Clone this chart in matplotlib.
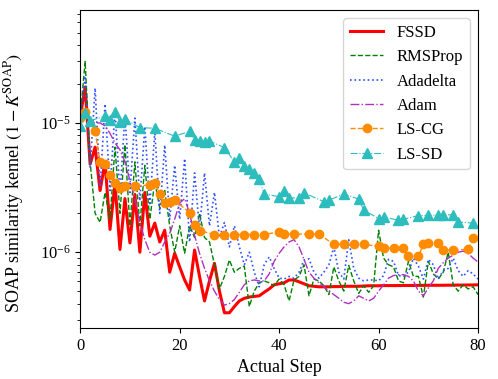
import numpy as np
import matplotlib
matplotlib.use("Agg")
import matplotlib.pyplot as plt

plt.rcParams['font.family'] = ['Liberation Serif', 'DejaVu Serif']
plt.rcParams['mathtext.fontset'] = 'stix'
plt.rcParams['font.size'] = 12

steps = list(range(81))

# FSSD
fssd = [1.1e-5, 1.9e-5, 4.8e-6, 6.5e-6, 3.0e-6, 5.0e-6, 1.5e-6, 3.4e-6, 1.05e-6, 2.6e-6,
        1.18e-6, 2.8e-6, 1.0e-6, 2.9e-6, 1.33e-6, 1.68e-6, 1.2e-6, 1.48e-6, 7.0e-7, 9.8e-7,
        7.7e-7, 6.1e-7, 5.1e-7, 1.04e-6, 6.5e-7, 4.2e-7, 6.0e-7, 8.2e-7, 5.0e-7, 3.4e-7,
        3.4e-7, 3.8e-7, 4.2e-7, 4.4e-7, 4.5e-7, 4.55e-7, 4.6e-7, 4.9e-7, 5.2e-7, 5.6e-7,
        5.7e-7, 5.8e-7, 6.1e-7, 6.1e-7, 5.9e-7, 5.7e-7, 5.5e-7, 5.45e-7, 5.4e-7, 5.4e-7,
        5.4e-7, 5.42e-7, 5.42e-7, 5.45e-7, 5.45e-7, 5.45e-7, 5.45e-7, 5.48e-7, 5.5e-7, 5.5e-7,
        5.5e-7, 5.52e-7, 5.52e-7, 5.52e-7, 5.52e-7, 5.53e-7, 5.53e-7, 5.53e-7, 5.54e-7, 5.54e-7,
        5.55e-7, 5.55e-7, 5.55e-7, 5.55e-7, 5.56e-7, 5.56e-7, 5.57e-7, 5.57e-7, 5.58e-7, 5.58e-7,
        5.6e-7]

rmsprop = [1.1e-5, 3.0e-5, 5.0e-6, 2.0e-6, 1.7e-6, 2.9e-6, 1.8e-6, 6.5e-6, 2.0e-6, 6.8e-6,
           1.6e-6, 5.0e-6, 1.6e-6, 4.7e-6, 1.8e-6, 3.5e-6, 2.2e-6, 3.0e-6, 1.6e-6, 1.0e-6,
           1.6e-6, 9.8e-7, 1.6e-6, 1.3e-6, 2.0e-6, 1.3e-6, 1.2e-6, 8.0e-7, 5.2e-7, 6.5e-7,
           8.7e-7, 7.0e-7, 7.5e-7, 7.8e-7, 3.8e-7, 5.0e-7, 5.8e-7, 6.0e-7, 5.8e-7, 5.5e-7,
           6.2e-7, 5.6e-7, 4.2e-7, 6.1e-7, 6.5e-7, 8.0e-7, 4.6e-7, 6.2e-7, 6.0e-7, 5.5e-7,
           4.7e-7, 7.7e-7, 6.0e-7, 5.0e-7, 7.9e-7, 6.0e-7, 4.8e-7, 5.5e-7, 4.9e-7, 5.5e-7,
           1.48e-6, 9.0e-7, 8.0e-7, 7.7e-7, 6.0e-7, 5.8e-7, 8.5e-7, 6.5e-7, 6.5e-7, 4.5e-7,
           8.5e-7, 6.8e-7, 6.2e-7, 7.0e-7, 1.0e-6, 5.6e-7, 5.0e-7, 5.6e-7, 5.2e-7, 5.4e-7,
           4.7e-7]

adadelta = [1.0e-5, 2.3e-5, 4.5e-6, 1.86e-5, 3.2e-6, 1.4e-5, 3.0e-6, 1.26e-5, 2.8e-6, 1.15e-5,
            2.9e-6, 1.09e-5, 2.5e-6, 9.4e-6, 2.3e-6, 8.6e-6, 2.0e-6, 6.75e-6, 1.8e-6, 4.7e-6,
            1.8e-6, 5.3e-6, 1.2e-6, 4.1e-6, 1.5e-6, 4.1e-6, 1.6e-6, 2.9e-6, 1.3e-6, 1.7e-6,
            1.1e-6, 1.6e-6, 1.1e-6, 8.0e-7, 1.0e-6, 7.0e-7, 5.4e-7, 8.0e-7, 9.2e-7, 7.5e-7,
            6.3e-7, 6.2e-7, 6.5e-7, 6.3e-7, 7.0e-7, 8.7e-7, 8.9e-7, 7.0e-7, 6.3e-7, 7.0e-7,
            8.0e-7, 1.1e-6, 7.0e-7, 6.2e-7, 1.25e-6, 7.5e-7, 6.3e-7, 6.0e-7, 6.1e-7, 6.1e-7,
            6.0e-7, 6.6e-7, 8.8e-7, 8.5e-7, 6.6e-7, 6.5e-7, 7.0e-7, 9.0e-7, 7.8e-7, 6.2e-7,
            8.8e-7, 8.0e-7, 6.2e-7, 7.2e-7, 7.5e-7, 9.0e-7, 7.2e-7, 6.5e-7, 7.2e-7, 6.8e-7,
            6.2e-7]

adam = [1.05e-5, 1.25e-5, 1.05e-5, 1.0e-5, 1.0e-5, 9.5e-6, 8.3e-6, 7.0e-6, 6.2e-6, 5.0e-6,
        3.6e-6, 2.6e-6, 1.7e-6, 1.25e-6, 1.0e-6, 9.5e-7, 1.0e-6, 1.2e-6, 1.4e-6, 1.8e-6,
        2.4e-6, 2.6e-6, 2.0e-6, 1.35e-6, 9.8e-7, 7.5e-7, 6.0e-7, 5.0e-7, 4.3e-7, 3.9e-7,
        4.0e-7, 4.3e-7, 4.9e-7, 5.6e-7, 6.0e-7, 6.1e-7, 6.0e-7, 6.0e-7, 6.8e-7, 8.5e-7,
        9.8e-7, 1.1e-6, 1.2e-6, 1.25e-6, 1.1e-6, 8.8e-7, 7.0e-7, 6.3e-7, 5.8e-7, 5.4e-7,
        5.0e-7, 4.7e-7, 4.4e-7, 4.1e-7, 4.0e-7, 4.2e-7, 4.6e-7, 4.4e-7, 4.2e-7, 4.4e-7,
        5.0e-7, 5.6e-7, 6.3e-7, 6.6e-7, 6.7e-7, 6.7e-7, 6.5e-7, 6.0e-7, 5.0e-7, 4.6e-7,
        5.3e-7, 6.0e-7, 7.5e-7, 8.3e-7, 9.0e-7, 9.5e-7, 1.0e-6, 1.02e-6, 9.8e-7, 9.0e-7,
        8.4e-7]

# line-search methods only log some steps
lscg_steps = [0, 1, 3, 4, 5, 6, 7, 8, 9, 11, 14, 15, 16, 17, 18, 19, 22, 23, 24, 27,
              29, 31, 33, 35, 37, 40, 41, 43, 46, 48, 51, 53, 55, 57, 60, 61, 63, 65, 66, 68,
              69, 70, 72, 73, 75, 78, 79]
lscg = [1.1e-5, 1.22e-5, 8.6e-6, 5.0e-6, 4.8e-6, 3.95e-6, 3.45e-6, 3.16e-6, 3.28e-6, 3.27e-6,
        3.3e-6, 3.45e-6, 2.8e-6, 2.4e-6, 2.45e-6, 2.53e-6, 2.02e-6, 1.62e-6, 1.47e-6, 1.37e-6,
        1.37e-6, 1.37e-6, 1.37e-6, 1.37e-6, 1.37e-6, 1.44e-6, 1.38e-6, 1.38e-6, 1.38e-6, 1.38e-6,
        1.15e-6, 1.15e-6, 1.15e-6, 1.15e-6, 1.11e-6, 1.08e-6, 1.07e-6, 1.07e-6, 9.3e-7, 9.3e-7,
        1.15e-6, 1.18e-6, 1.18e-6, 1.04e-6, 1.04e-6, 1.05e-6, 1.28e-6]

lssd_steps = [0, 1, 2, 5, 6, 7, 8, 9, 12, 15, 19, 22, 23, 24, 25, 26, 29, 31, 32, 33,
              34, 35, 36, 37, 40, 41, 42, 44, 45, 49, 50, 53, 56, 57, 60, 61, 64, 65, 68, 70,
              72, 73, 75, 76, 79]
lssd = [9.5e-6, 1.2e-5, 1.04e-5, 1.13e-5, 1.05e-5, 1.22e-5, 1.02e-5, 1.07e-5, 9.2e-6, 9.1e-6,
        7.9e-6, 8.6e-6, 7.4e-6, 7.3e-6, 7.1e-6, 7.25e-6, 6.45e-6, 5.0e-6, 5.35e-6, 4.67e-6,
        4.4e-6, 4.1e-6, 3.7e-6, 2.82e-6, 2.69e-6, 3.0e-6, 2.62e-6, 2.64e-6, 2.88e-6, 2.46e-6,
        2.53e-6, 2.82e-6, 2.58e-6, 2.12e-6, 1.82e-6, 1.87e-6, 1.77e-6, 1.8e-6, 1.92e-6, 1.93e-6,
        1.94e-6, 1.94e-6, 1.95e-6, 1.71e-6, 1.68e-6]

fig = plt.figure(figsize=(4.98, 3.79), dpi=100)
ax = fig.add_axes([0.161, 0.135, 0.799, 0.839])

ax.plot(steps, fssd, color='red', lw=2.2, label='FSSD')
ax.plot(steps, rmsprop, color='green', ls='--', lw=1.0, label='RMSProp')
ax.plot(steps, adadelta, color='#3050ff', ls=':', lw=1.2, label='Adadelta')
ax.plot(steps, adam, color='#b030c0', ls='-.', lw=1.0, label='Adam')
ax.plot(lscg_steps, lscg, color='darkorange', ls='--', lw=1.0, marker='o', ms=6, label='LS-CG')
ax.plot(lssd_steps, lssd, color='#2ebdbd', ls='-.', lw=0.8, marker='^', ms=6.5, label='LS-SD')

ax.set_yscale('log')
ax.set_xlim(0, 80)
ax.set_ylim(2.6e-7, 7.5e-5)
ax.set_xticks([0, 20, 40, 60, 80])
ax.set_xlabel('Actual Step', fontsize=13)
ax.set_ylabel(r'SOAP similarity kernel $(1-K^{\mathrm{SOAP}})$', fontsize=13, loc='bottom')
ax.yaxis.set_label_coords(-0.135, 0.047)
ax.legend(loc='upper right', fontsize=12, handlelength=2.0)

fig.savefig('out.png', dpi=100)
